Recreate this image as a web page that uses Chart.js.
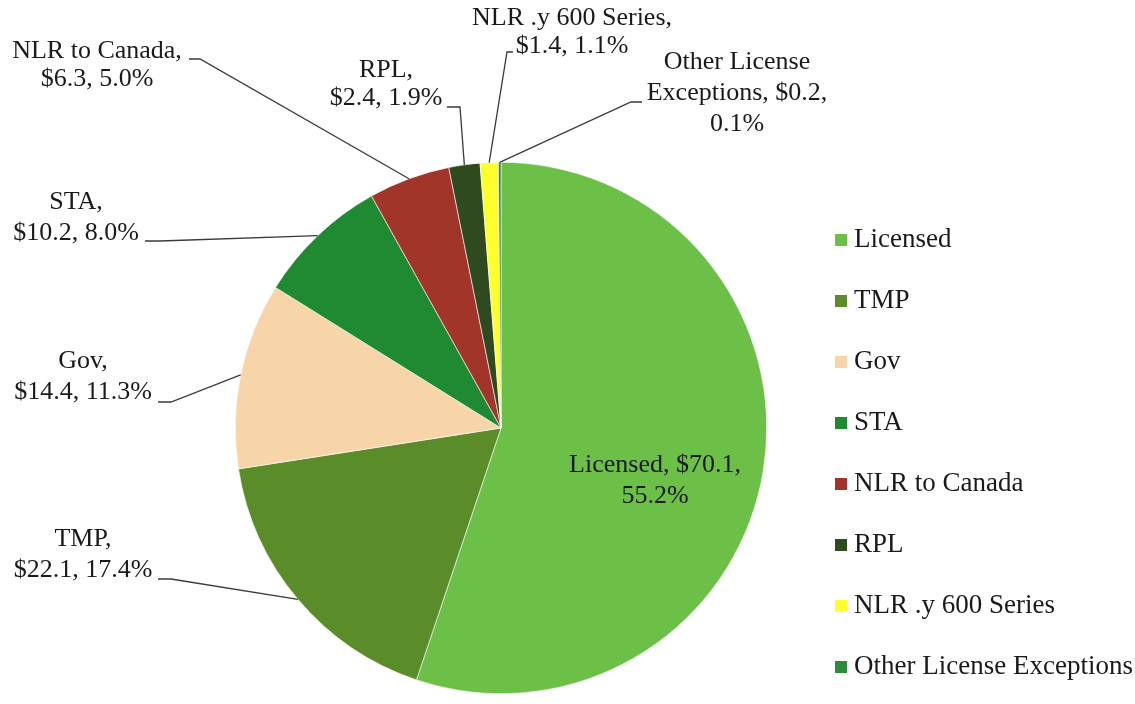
<!DOCTYPE html>
<html>
<head>
<meta charset="utf-8">
<script src="https://cdn.jsdelivr.net/npm/chart.js@4/dist/chart.umd.min.js"></script>
<style>
  body { margin: 0; background: #fff; }
  #wrap { width: 1135px; height: 704px; position: relative; }
</style>
</head>
<body>
<div id="wrap"><canvas id="pieChart"></canvas></div>
<script>
// data ($ billions, share of total)
const categories = ['Licensed', 'TMP', 'Gov', 'STA', 'NLR to Canada', 'RPL', 'NLR .y 600 Series', 'Other License Exceptions'];
const amounts = [70.1, 22.1, 14.4, 10.2, 6.3, 2.4, 1.4, 0.2];
const shares = [55.2, 17.4, 11.3, 8.0, 5.0, 1.9, 1.1, 0.1];
const sliceColors = ['#6cbf47', '#5b8c2a', '#f8d4a9', '#1f8a31', '#a1352a', '#2f4a1f', '#ffff2e', '#2e8b3b'];

// where each data label sits and how its leader line starts
const labelLayout = [
  { x: 655, y: 465, wrap: 'licensed' },
  { x: 83, y: 539, stub: [158, 171, 579], join: 'right' },
  { x: 83, y: 361, stub: [158, 171, 402], join: 'right' },
  { x: 76, y: 202, stub: [145, 160, 241], join: 'right' },
  { x: 97, y: 51, lh: 28, stub: [189, 200, 59], join: 'right' },
  { x: 386, y: 70, lh: 28, stub: [447, 460, 107], join: 'right' },
  { x: 572, y: 18, lh: 28, stub: [507, 513, 52], join: 'left' },
  { x: 737, y: 62, wrap: 'other', stub: [631, 642, 102], join: 'left' }
];

const FONT = '26px "Liberation Serif", "Times New Roman", serif';
const LEGEND_FONT = '27px "Liberation Serif", "Times New Roman", serif';
const INK = '#1a1a1a';

function labelLines(i) {
  const name = categories[i];
  const v = '$' + amounts[i].toFixed(1);
  const p = shares[i].toFixed(1) + '%';
  const w = labelLayout[i].wrap;
  if (w === 'licensed') return [name + ', ' + v + ',', p];
  if (w === 'other') return ['Other License', 'Exceptions, ' + v + ',', p];
  return [name + ',', v + ', ' + p];
}

const pieLabels = {
  id: 'pieLabels',
  afterDatasetsDraw(chart) {
    const ctx = chart.ctx;
    const arcs = chart.getDatasetMeta(0).data;
    ctx.save();
    ctx.font = FONT;
    ctx.fillStyle = INK;
    ctx.textAlign = 'center';
    ctx.textBaseline = 'middle';
    labelLayout.forEach((lay, i) => {
      const lh = lay.lh || 31;
      labelLines(i).forEach((t, k) => ctx.fillText(t, lay.x, lay.y + k * lh));
      if (!lay.stub) return;
      const a = arcs[i];
      const mid = (a.startAngle + a.endAngle) / 2;
      const px = a.x + Math.cos(mid) * a.outerRadius;
      const py = a.y + Math.sin(mid) * a.outerRadius;
      const [x1, x2, sy] = lay.stub;
      const jx = lay.join === 'right' ? x2 : x1;
      ctx.strokeStyle = '#3a3a3a';
      ctx.lineWidth = 1.3;
      ctx.beginPath();
      ctx.moveTo(lay.join === 'right' ? x1 : x2, sy);
      ctx.lineTo(jx, sy);
      ctx.lineTo(px, py);
      ctx.stroke();
    });

    // legend on the right
    ctx.font = LEGEND_FONT;
    categories.forEach((name, i) => {
      const ry = 240 + i * 61;
      ctx.fillStyle = sliceColors[i];
      ctx.fillRect(835, ry - 6, 12, 12);
      ctx.fillStyle = INK;
      ctx.textAlign = 'left';
      ctx.fillText(name, 854, ry);
    });
    ctx.restore();
  }
};

new Chart(document.getElementById('pieChart'), {
  type: 'pie',
  data: {
    labels: categories,
    datasets: [{
      data: amounts,
      backgroundColor: sliceColors,
      borderColor: '#ffffff',
      borderWidth: 0.6
    }]
  },
  options: {
    responsive: true,
    maintainAspectRatio: false,
    animation: false,
    layout: { padding: { top: 162, bottom: 10, left: 235, right: 368 } },
    plugins: {
      legend: { display: false },
      tooltip: { enabled: false }
    }
  },
  plugins: [pieLabels]
});
</script>
</body>
</html>
